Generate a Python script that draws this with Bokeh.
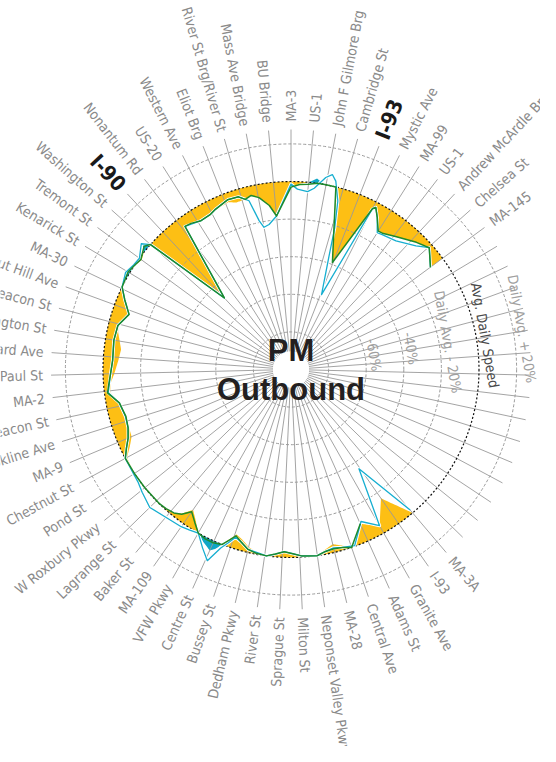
import math
from bokeh.plotting import figure
from bokeh.models import ColumnDataSource, Range1d
from bokeh.core.properties import value
from bokeh.embed import file_html
from bokeh.resources import INLINE

# ---------------- data ----------------
N_SPOKES = 67
label_spokes = list(range(0, 11)) + list(range(26, 67))
label_names = ["MA-3", "US-1", "John F Gilmore Brg", "Cambridge St", "I-93", "Mystic Ave",
               "MA-99", "US-1", "Andrew McArdle Brg", "Chelsea St", "MA-145",
               "MA-3A", "I-93", "Granite Ave", "Adams St", "Central Ave", "MA-28",
               "Neponset Valley Pkwy", "Milton St", "Sprague St", "River St", "Dedham Pkwy",
               "Bussey St", "Centre St", "VFW Pkwy", "MA-109", "Baker St", "Lagrange St",
               "W Roxbury Pkwy", "Pond St", "Chestnut St", "MA-9", "Brookline Ave", "Beacon St",
               "MA-2", "St Paul St", "Harvard Ave", "Washington St", "Beacon St",
               "Chestnut Hill Ave", "MA-30", "Kenarick St", "Tremont St", "Washington St",
               "I-90", "Nonantum Rd", "US-20", "Western Ave", "Eliot Brg",
               "River St Brg/River St", "Mass Ave Bridge", "BU Bridge"]
highway_spokes = [4, 59]

ring_pct = [-80, -60, -40, -20, 0, 20]
ring_text = ["", "-60%", "-40%", "Daily Avg. - 20%", "Avg. Daily Speed", "Daily Avg. + 20%"]

# speed deviation from daily average (%), by position along the route (spoke units)
fill_pos = [26, 27, 28, 29, 30, 30.5, 31, 31.5, 32, 32.5, 32.9, 33.4, 33.9, 34.4, 34.9, 35.5,
            36, 36.5, 36.9, 37.2, 37.5, 37.75, 38, 38.5, 39, 39.5, 40, 40.4, 40.8, 41.3, 41.8,
            42.5, 43, 44, 45, 45.5, 46, 46.6, 47.3, 48.2, 48.9, 49.5, 50, 50.8, 51.5, 52.5, 53,
            53.75, 54.5, 55.1, 55.5, 56, 56.5, 57, 57.4, 57.7, 58, 59, 60.2, 60.6, 61.2, 61.9,
            62.3, 63.2, 63.6, 64.2, 64.6, 65.04, 65.6, 66, 0, 0.5, 1.0, 1.45, 1.9, 2.57, 3.94,
            5.0, 5.14, 5.5, 6.0, 6.3, 7.1, 8.3, 9.05, 10]
fill_pct = [0, -16.4, -4.5, -10, 0, -2.5, -4.5, -2.5, 0, -0.5, -1, -2.5, -3.5, -1.5, 0, -1,
            -3, -6, -7.6, -4, 0, 3.5, 5.5, 3, 0, -5, -9, -4, -1.5, -0.5, 0,
            0, 0, 0, -1, -5, -8, -8.5, -9, -7.5, -3, -4, -6, -8, -9, -6, -5,
            -9, -4, 0, 1, 1.5, 0, -1.5, 0, 3, 0, -48, -5.3, -6, -7.5, -7,
            -6, -5, -6.5, -6.3, -5, -7, -12, -18, -3, -1, 0, 2.5, 0, 0, -39,
            -4, -3, -7, -13, -12.7, -10, -5, -2, -8]

green_pos = [29, 30, 30.5, 31, 31.5, 32, 32.5, 32.9, 33.4, 33.9, 34.4, 34.9, 35.5, 36, 36.5,
             36.9, 37.2, 37.5, 38, 38.5, 39, 39.5, 40, 40.4, 40.8, 41.3, 41.8, 43, 44, 45, 45.5,
             46, 46.6, 47.3, 48.2, 48.9, 49.5, 50, 50.8, 52, 52.9, 53.75, 54.5, 55.1, 56, 56.5,
             57, 57.7, 58, 59, 60.2, 60.6, 61.2, 61.9, 62.3, 63.2, 63.85, 64.2, 64.6, 65.04,
             65.6, 66, 0, 0.5, 1, 1.5, 2, 2.57, 3.94, 5.0, 5.14, 5.5, 6.0, 6.3, 7.1, 8.3, 9.05, 10]
green_pct = [-10, 0, -1.5, -2, -1.5, 0, -0.3, -0.7, -2, -3, -1.5, 0, -0.5, -1.6, -4.5,
             -6.8, -3.5, 0, 1, 1, 0, -4, -7.7, -3.5, -1.5, -0.5, 0, 0, 0, 0, -3,
             -6, -8, -8.7, -7, -1.6, -3, -4, -5, -4.5, -5, -9, -4, 0, 1, 0,
             -1, 2, 0, -48, -5.3, -5.8, -7.5, -7, -5.8, -3.6, -4, -6.3, -5, -7,
             -12, -18, -3, -1.5, -1, 0, 0, 0, -39, -4, -2.7, -7, -13, -12.7, -10, -5, -2, -8]

cyan_pos = [26, 27.1, 28, 28.9, 29.8, 30.5, 31, 31.5, 32, 32.9, 33.4, 33.9, 34.4, 34.9, 36,
            36.5, 36.9, 37.2, 37.5, 37.9, 38.4, 39, 39.5, 40, 41, 42, 42.9, 43.5, 44, 45, 45.5,
            46, 46.6, 47.3, 48.2, 48.9, 50, 50.8, 52, 52.9, 53.75, 54.5, 55.1, 55.9, 56.5, 57,
            57.7, 58, 59, 60.2, 61.2, 61.9, 62.3, 63.2, 63.85, 64.4, 64.75, 65, 65.4, 66,
            0, 0.38, 0.99, 1.36, 1.91, 2.23, 2.49, 2.89, 3.19, 3.42, 4.13, 5.0, 5.14, 5.5,
            6.0, 6.3, 7.3, 8.43, 9.05, 10]
cyan_pct = [-2, -36, -4.5, -11, -0.4, -1.5, -2.5, -1.5, 0, -0.7, -2, -3, -1.5, 0, -1.6,
            -4.5, -6, -2, 2, 11, 6, 0, 1, 2, 3, 5, 2.6, 1, 0.5, 0, -3,
            -6, -8, -8.5, -7, -2, -4, -5, -4.5, -5, -9, -4, 0, 2, 0.5, 0,
            4, 0, -48, -5.3, -7.5, -7, -5.8, -3.6, -4, -7.5, -19, -23, -22, -18,
            -1.4, -4, -5, -2.8, 3.8, 6, 3, -7, -21, -35, -57, -4.4, -2.7, -7,
            -14, -13.5, -11.7, -6.5, -2, -8]

# ---------------- geometry helpers ----------------
R0 = 188.0          # radius of the daily-average circle (px)
R_IN = 18.0         # inner blank disk
R_SPOKE = 240.0     # spoke end
R_LABEL = 248.0     # label anchor

ORANGE = "#FDBF14"
CYAN = "#16AED0"
CYAN_FILL = "#10A6C6"
GREEN = "#1E8A2C"
GRAY_TXT = "#8A8A8A"


def rad(pct):
    return R0 * (1.0 + pct / 100.0)


def ang(pos):
    return 2.0 * math.pi * pos / N_SPOKES


def xy(pos, r):
    a = ang(pos)
    return r * math.sin(a), r * math.cos(a)


def unwrap(pos_list):
    return [p if p >= 20 else p + N_SPOKES for p in pos_list]


def path_points(pos_list, pct_list, sub=16):
    pts = [xy(p, rad(v)) for p, v in zip(pos_list, pct_list)]
    out = [pts[0]]
    for (x0, y0), (x1, y1) in zip(pts[:-1], pts[1:]):
        for i in range(1, sub + 1):
            t = i / sub
            out.append((x0 + (x1 - x0) * t, y0 + (y1 - y0) * t))
    return out


def band(pos_list, pct_list, inside=True):
    pts = path_points(pos_list, pct_list)
    xs, ys = [], []
    for x, y in pts:
        r = math.hypot(x, y)
        if (inside and r > R0) or ((not inside) and r < R0):
            x, y = x * R0 / r, y * R0 / r
        xs.append(x)
        ys.append(y)
    u = unwrap(pos_list)
    start, end = u[0], u[-1]
    n = int((end - start) / 0.05) + 1
    for i in range(n + 1):
        p = end - (end - start) * i / n
        x, y = xy(p, R0)
        xs.append(x)
        ys.append(y)
    return xs, ys


# ---------------- figure ----------------
W, H = 540, 746
CX, CY = 290.5, 369.0
p = figure(width=W, height=H, x_range=Range1d(-CX, W - CX), y_range=Range1d(CY - H, CY),
           output_backend="svg", toolbar_location=None, min_border=0,
           x_axis_type=None, y_axis_type=None)
p.grid.visible = False
p.outline_line_color = None
p.background_fill_color = "white"

# fills
ox, oy = band(fill_pos, fill_pct, inside=True)
p.patch(ox, oy, fill_color=ORANGE, line_color=None)
cx_, cy_ = band(fill_pos, fill_pct, inside=False)
p.patch(cx_, cy_, fill_color=CYAN_FILL, line_color=None)

# spokes
sx0, sy0, sx1, sy1 = [], [], [], []
for k in range(N_SPOKES):
    a0 = xy(k, R_IN)
    a1 = xy(k, R_SPOKE)
    sx0.append(a0[0]); sy0.append(a0[1]); sx1.append(a1[0]); sy1.append(a1[1])
p.segment(sx0, sy0, sx1, sy1, line_color="#9A9A9A", line_width=0.9)

# rings
for pc in ring_pct:
    if pc == 0:
        continue
    p.circle(x=0, y=0, radius=rad(pc), fill_color=None, line_color="#9A9A9A",
             line_width=1, line_dash="3 2")
p.circle(x=0, y=0, radius=R0, fill_color=None, line_color="#111111",
         line_width=1.2, line_dash="2 2")
p.circle(x=0, y=0, radius=R_IN, fill_color="white", line_color=None)

# lines
cpts = path_points(cyan_pos, cyan_pct, sub=1)
p.line([q[0] for q in cpts], [q[1] for q in cpts], line_color="white", line_width=3.2,
       line_join="round")
p.line([q[0] for q in cpts], [q[1] for q in cpts], line_color=CYAN, line_width=1.3,
       line_join="round")
gpts = path_points(green_pos, green_pct, sub=1)
p.line([q[0] for q in gpts], [q[1] for q in gpts], line_color=GREEN, line_width=1.5,
       line_join="round")

# spoke labels
FONT = value("DejaVu Sans Condensed")
rt = dict(x=[], y=[], t=[], a=[])
lt = dict(x=[], y=[], t=[], a=[])
hw_r = dict(x=[], y=[], t=[], a=[])
hw_l = dict(x=[], y=[], t=[], a=[])
for k, name in zip(label_spokes, label_names):
    th = ang(k)
    x, y = xy(k, R_LABEL)
    right = math.degrees(th) <= 180
    a = (math.pi / 2 - th) if right else (1.5 * math.pi - th)
    if k in highway_spokes:
        d = hw_r if right else hw_l
    else:
        d = rt if right else lt
    d["x"].append(x); d["y"].append(y); d["t"].append(name); d["a"].append(a)

p.text(x="x", y="y", text="t", angle="a", source=ColumnDataSource(rt), text_font=FONT,
       text_font_size="14px", text_color=GRAY_TXT, text_align="left", text_baseline="middle")
p.text(x="x", y="y", text="t", angle="a", source=ColumnDataSource(lt), text_font=FONT,
       text_font_size="14px", text_color=GRAY_TXT, text_align="right", text_baseline="middle")
p.text(x="x", y="y", text="t", angle="a", source=ColumnDataSource(hw_r), text_font=FONT,
       text_font_size="21px", text_font_style="bold", text_color="#1A1A1A",
       text_align="left", text_baseline="middle")
p.text(x="x", y="y", text="t", angle="a", source=ColumnDataSource(hw_l), text_font=FONT,
       text_font_size="21px", text_font_style="bold", text_color="#1A1A1A",
       text_align="right", text_baseline="middle")

# ring labels
RING_LABEL_DEG = 80.0
rl = dict(x=[], y=[], t=[], a=[], c=[])
for pc, txt in zip(ring_pct, ring_text):
    if not txt:
        continue
    r = rad(pc) + 9.0
    th = math.radians(RING_LABEL_DEG)
    rl["x"].append(r * math.sin(th)); rl["y"].append(r * math.cos(th))
    rl["t"].append(txt); rl["a"].append(-th)
    rl["c"].append("#4A4A4A" if pc == 0 else "#A0A0A0")
p.text(x="x", y="y", text="t", angle="a", text_color="c", source=ColumnDataSource(rl),
       text_font=FONT, text_font_size="14px", text_align="center", text_baseline="middle")

# centre title
p.text(x=[0, 0], y=[19.5, -19.5], text=["PM", "Outbound"], text_font=value("Liberation Sans"),
       text_font_size="31px", text_font_style="bold", text_color="#231F20",
       text_align="center", text_baseline="middle")

open("out.html", "w").write(file_html(p, INLINE))
